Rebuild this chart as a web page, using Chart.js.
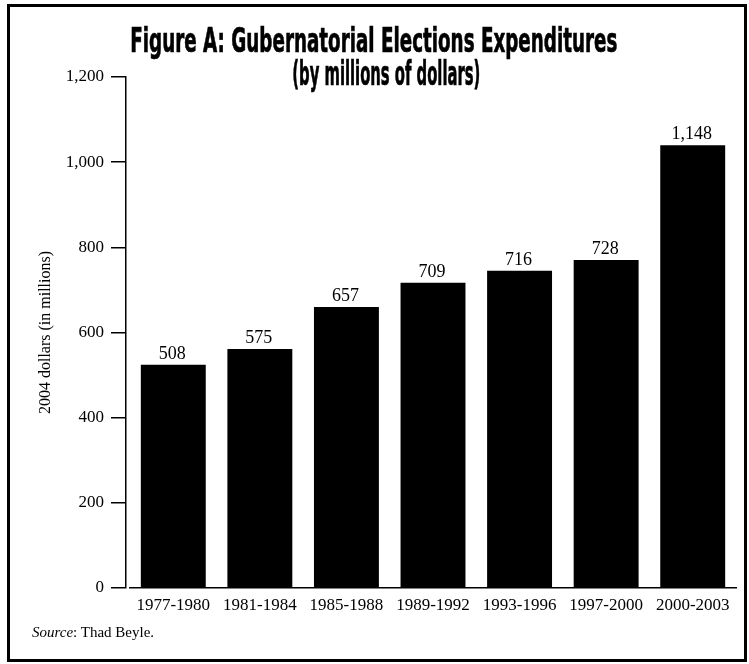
<!DOCTYPE html>
<html>
<head>
<meta charset="utf-8">
<script src="https://cdn.jsdelivr.net/npm/chart.js@4.4.0/dist/chart.umd.min.js"></script>
<style>
  html, body { margin: 0; padding: 0; background: #fff; }
  #wrap { position: relative; width: 749px; height: 664px; overflow: hidden; }
  #frame { position: absolute; left: 7px; top: 4px; width: 734px; height: 652px; border: 3px solid #000; }
  #myChart { position: absolute; left: 0; top: 0; }
  .title { position: absolute; font-family: "Liberation Sans Narrow", "DejaVu Sans Condensed", sans-serif;
           font-weight: bold; font-size: 34px; line-height: 1; white-space: nowrap; transform-origin: center top;
           -webkit-text-stroke: 0.7px #000; }
  #source { position: absolute; left: 32px; top: 624px; font-family: "Liberation Serif", serif; font-size: 15px; color: #000; }
</style>
</head>
<body>
<div id="wrap">
  <div id="frame"></div>
  <canvas id="myChart" width="749" height="664"></canvas>
  <div class="title" id="t1" data-cx="374" data-w="487" style="top:23px">Figure A: Gubernatorial Elections Expenditures</div>
  <div class="title" id="t2" data-cx="386" data-w="188" style="top:56px">(by millions of dollars)</div>
  <div id="source"><i>Source</i>: Thad Beyle.</div>
</div>
<script>
// periods on the x axis
const periods = ['1977-1980', '1981-1984', '1985-1988', '1989-1992', '1993-1996', '1997-2000', '2000-2003'];
// bar heights as drawn in the figure
const barHeights = [524, 561, 660, 717, 745, 770, 1040];
// numbers printed above the bars
const printedValues = ['508', '575', '657', '709', '716', '728', '1,148'];
// y axis ticks
const yMin = 0;
const yMax = 1200;
const yStep = 200;

// squeeze the title lines to the condensed look of the original
document.querySelectorAll('.title').forEach(el => {
  const w = el.getBoundingClientRect().width;
  el.style.left = (el.dataset.cx - w / 2) + 'px';
  el.style.transform = 'scaleX(' + (el.dataset.w / w) + ')';
});

// value text above each bar
const valueLabels = {
  id: 'valueLabels',
  afterDatasetsDraw(chart) {
    const ctx = chart.ctx;
    const meta = chart.getDatasetMeta(0);
    ctx.save();
    ctx.font = '18px "Liberation Serif"';
    ctx.fillStyle = '#000';
    ctx.textAlign = 'center';
    ctx.textBaseline = 'alphabetic';
    meta.data.forEach((bar, i) => ctx.fillText(printedValues[i], bar.x - 1, bar.y - 6));
    ctx.restore();
  }
};

// the y axis sits a few pixels left of where the x axis starts
const shiftYAxis = {
  id: 'shiftYAxis',
  afterLayout(chart) {
    chart.scales.y.left -= 4;
    chart.scales.y.right -= 4;
  }
};

const ctx = document.getElementById('myChart').getContext('2d');
const myChart = new Chart(ctx, {
  type: 'bar',
  data: {
    labels: periods,
    datasets: [{
      data: barHeights,
      backgroundColor: '#000',
      borderWidth: 0,
      barPercentage: 0.75,
      categoryPercentage: 1
    }]
  },
  options: {
    responsive: false,
    animation: false,
    layout: { padding: { left: 40, top: 77, right: 13, bottom: 46 } },
    plugins: {
      legend: { display: false },
      tooltip: { enabled: false }
    },
    scales: {
      x: {
        afterFit: s => { s.height = 30; },
        grid: { display: false, drawTicks: false },
        border: { display: true, color: '#000', width: 1.5 },
        ticks: {
          color: '#000',
          padding: 7,
          maxRotation: 0,
          autoSkip: false,
          font: { family: 'Liberation Serif', size: 17 }
        }
      },
      y: {
        min: yMin,
        max: yMax,
        afterFit: s => { s.width = 90; },
        grid: { drawOnChartArea: false, drawTicks: true, tickLength: 15, color: '#000', lineWidth: 1.5 },
        border: { display: true, color: '#000', width: 1.5 },
        ticks: {
          stepSize: yStep,
          color: '#000',
          padding: 7,
          font: { family: 'Liberation Serif', size: 17 },
          callback: v => v.toLocaleString('en-US')
        },
        title: {
          display: true,
          text: '2004 dollars (in millions)',
          color: '#000',
          padding: 0,
          font: { family: 'Liberation Serif', size: 16 }
        }
      }
    }
  },
  plugins: [valueLabels, shiftYAxis]
});
</script>
</body>
</html>
